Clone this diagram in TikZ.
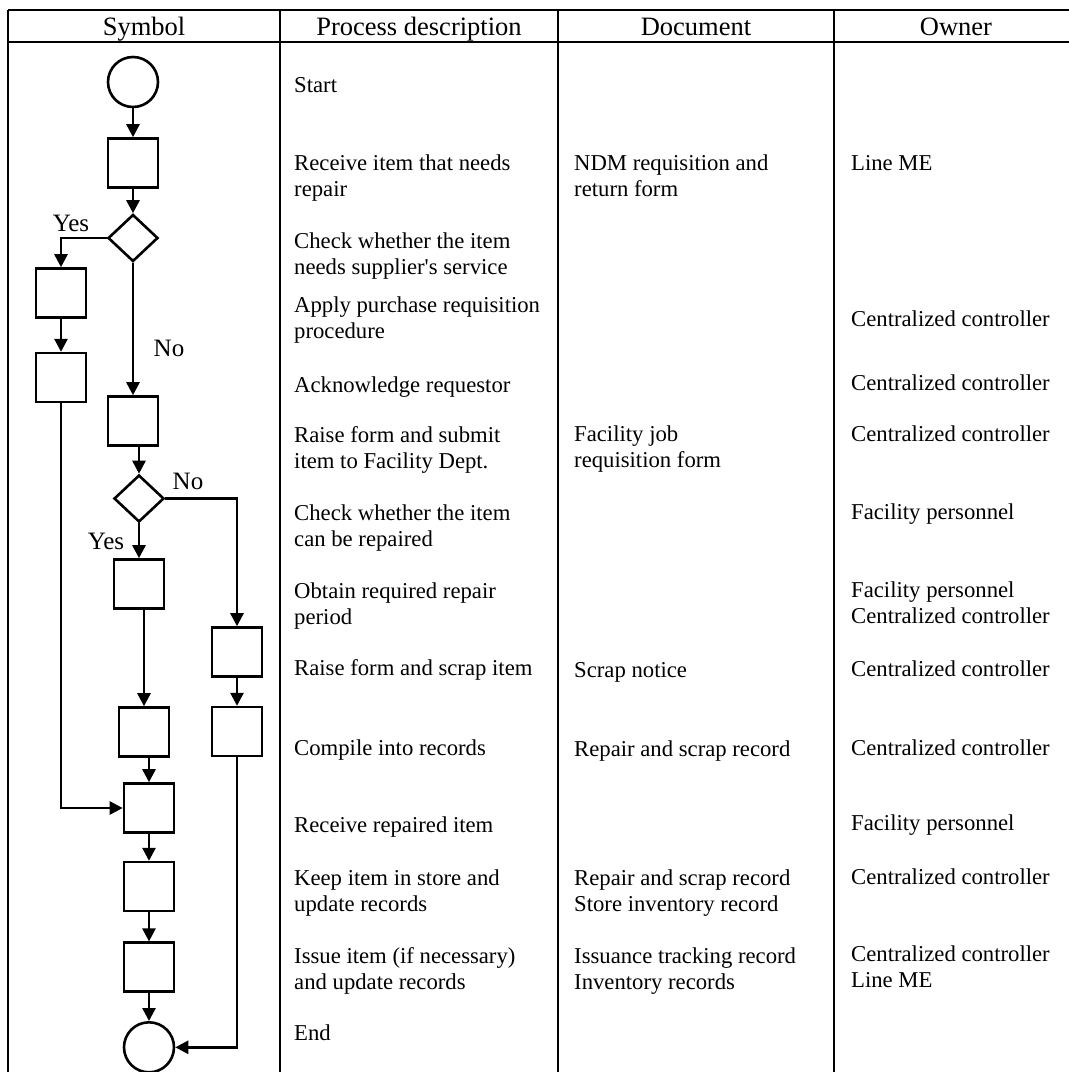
\documentclass[tikz,border=0pt]{standalone}
\usepackage{fontspec}
\setmainfont{Liberation Serif}
\usetikzlibrary{positioning, shapes.geometric, arrows.meta}

\begin{document}
\begin{tikzpicture}[x=1pt, y=-1pt,
    rule/.style={line width=2pt},
    box/.style={draw, line width=2.6pt, minimum width=50pt, minimum height=49pt, inner sep=0pt},
    decision/.style={draw, diamond, line width=2.6pt, minimum width=50pt, minimum height=47pt, inner sep=0pt},
    terminal/.style={draw, circle, line width=2.6pt, minimum size=50pt, inner sep=0pt},
    flow/.style={line width=2.6pt, -{Triangle[length=13pt, width=13pt]}},
    hdr/.style={anchor=base, inner sep=0pt, font=\fontsize{26.5}{30}\selectfont},
    txt/.style={anchor=base west, align=left, inner sep=0pt, font=\fontsize{22.7}{26}\selectfont},
    tag/.style={inner sep=0pt, font=\fontsize{25}{28}\selectfont}]

\useasboundingbox (0,0) rectangle (1069,1072);

% table frame
\draw[rule] (8,10) -- (1069,10);
\draw[rule] (8,42) -- (1069,42);
\foreach \x in {8, 280, 557.5, 834}
    \draw[rule] (\x,10) -- (\x,1072);

% column heads
\node[hdr] (hsym) at (144,35) {Symbol};
\node[hdr] (hproc) at (419,35) {Process description};
\node[hdr] (hdoc) at (696,35) {Document};
\node[hdr] (hown) at (956,35) {Owner};

% process description (base = last line)
\node[txt] (p1) at (294,92) {Start};
\node[txt] (p2) at (294,196) {Receive item that needs\\repair};
\node[txt] (p3) at (294,274) {Check whether the item\\needs supplier\textquotesingle s service};
\node[txt] (p4) at (294,338) {Apply purchase requisition\\procedure};
\node[txt] (p5) at (294,392) {Acknowledge requestor};
\node[txt] (p6) at (294,468) {Raise form and submit\\item to Facility Dept.};
\node[txt] (p7) at (294,546) {Check whether the item\\can be repaired};
\node[txt] (p8) at (294,624) {Obtain required repair\\period};
\node[txt] (p9) at (294,675) {Raise form and scrap item};
\node[txt] (p10) at (294,755) {Compile into records};
\node[txt] (p11) at (294,832) {Receive repaired item};
\node[txt] (p12) at (294,911) {Keep item in store and\\update records};
\node[txt] (p13) at (294,989) {Issue item (if necessary)\\and update records};
\node[txt] (p14) at (294,1040) {End};

% documents
\node[txt] (doc1) at (574,196) {NDM requisition and\\return form};
\node[txt] (doc2) at (574,467) {Facility job\\requisition form};
\node[txt] (doc3) at (574,677) {Scrap notice};
\node[txt] (doc4) at (574,756) {Repair and scrap record};
\node[txt] (doc5) at (574,911) {Repair and scrap record\\Store inventory record};
\node[txt] (doc6) at (574,989) {Issuance tracking record\\Inventory records};

% owners
\node[txt] (own1) at (851,170) {Line ME};
\node[txt] (own2) at (851,326) {Centralized controller};
\node[txt] (own3) at (851,390) {Centralized controller};
\node[txt] (own4) at (851,441) {Centralized controller};
\node[txt] (own5) at (851,519) {Facility personnel};
\node[txt] (own6) at (851,623) {Facility personnel\\Centralized controller};
\node[txt] (own7) at (851,676) {Centralized controller};
\node[txt] (own8) at (851,755) {Centralized controller};
\node[txt] (own9) at (851,830) {Facility personnel};
\node[txt] (own10) at (851,884) {Centralized controller};
\node[txt] (own11) at (851,987) {Centralized controller\\Line ME};

% symbols
\node[terminal] (start) at (133,82) {};
\node[box] (b1) at (133,163) {};
\node[decision] (d1) at (133,238) {};
\node[box] (b2) at (61,293) {};
\node[box, below=33pt of b2] (b3) {};
\node[box] (b4) at (133,421) {};
\node[decision] (d2) at (139,498.5) {};
\node[box] (b5) at (139,584) {};
\node[box] (b6) at (237,652) {};
\node[box, below=28pt of b6] (b7) {};
\node[box] (b8) at (144,732) {};
\node[box] (b9) at (149,808) {};
\node[box, below=27pt of b9] (b10) {};
\node[box, below=29pt of b10] (b11) {};
\node[terminal, below=28pt of b11] (stop) {};

\node[tag] (yes1) at (71,223) {Yes};
\node[tag] (no1) at (169,348) {No};
\node[tag] (no2) at (188,481) {No};
\node[tag] (yes2) at (106,541) {Yes};

% connectors
\draw[flow] (start) -- (b1);
\draw[flow] (b1) -- (d1);
\draw[flow] (d1.west) -| (b2.north);
\draw[flow] (b2) -- (b3);
\draw[flow] (d1) -- (b4);
\draw[flow] (d2.north |- b4.south) -- (d2.north);
\draw[flow] (d2.east) -| (b6.north);
\draw[flow] (d2) -- (b5);
\draw[flow] (b6) -- (b7);
\draw[flow] (b8.north |- b5.south) -- (b8.north);
\draw[flow] (b9.north |- b8.south) -- (b9.north);
\draw[flow] (b3.south) |- (b9.west);
\draw[flow] (b9) -- (b10);
\draw[flow] (b10) -- (b11);
\draw[flow] (b11) -- (stop);
\draw[flow] (b7.south) |- (stop.east);
\end{tikzpicture}
\end{document}
